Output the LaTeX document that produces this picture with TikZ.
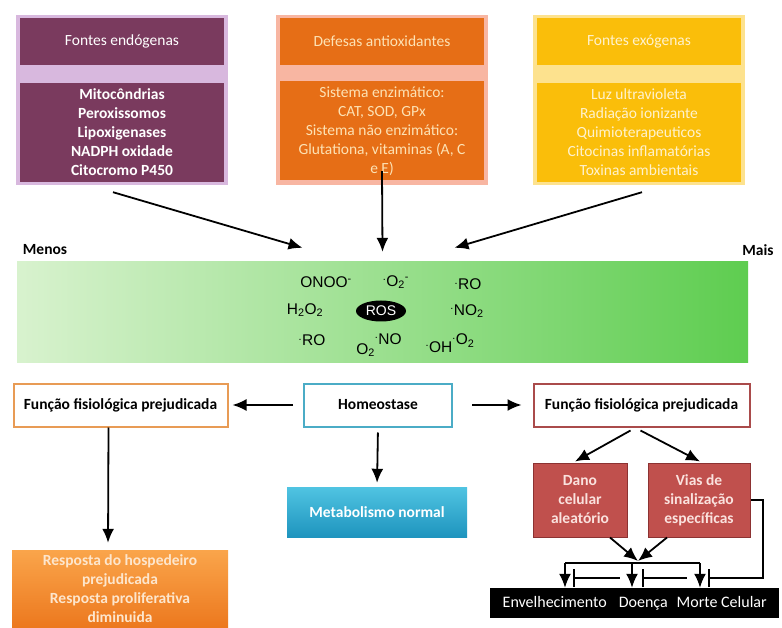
\documentclass[tikz,border=0pt]{standalone}
\usepackage{fontspec}
\setmainfont{Carlito}
\newfontfamily\chemfont{Liberation Sans}
\usetikzlibrary{shapes.geometric, arrows.meta, math}

\definecolor{endoFill}{RGB}{122,58,94}
\definecolor{endoGlow}{RGB}{216,184,222}
\definecolor{antiFill}{RGB}{230,110,22}
\definecolor{antiGlow}{RGB}{248,182,162}
\definecolor{antiText}{RGB}{253,226,180}
\definecolor{exoFill}{RGB}{250,190,10}
\definecolor{exoGlow}{RGB}{253,226,142}
\definecolor{exoText}{RGB}{255,242,205}
\definecolor{rosLeft}{RGB}{216,242,206}
\definecolor{rosRight}{RGB}{94,205,80}
\definecolor{funcLeft}{RGB}{232,155,85}
\definecolor{homeoLine}{RGB}{75,172,198}
\definecolor{funcRight}{RGB}{170,75,75}
\definecolor{respTop}{RGB}{250,165,75}
\definecolor{respBottom}{RGB}{236,120,30}
\definecolor{respText}{RGB}{253,230,205}
\definecolor{metabTop}{RGB}{80,196,226}
\definecolor{metabBottom}{RGB}{30,148,190}
\definecolor{danoFill}{RGB}{192,80,77}
\definecolor{danoLine}{RGB}{140,50,50}
\definecolor{danoText}{RGB}{250,226,222}

\newcommand{\boxfont}{\fontsize{15.5}{19}\selectfont}
\newcommand{\chemsize}{\chemfont\fontsize{15.5}{17}\selectfont}
\newcommand{\radot}{\textsuperscript{.}}

\begin{document}
\begin{tikzpicture}[x=1pt, y=-1pt,
    every node/.style={inner sep=0pt, align=center},
    arr/.style={line width=1.8pt, -{Latex[length=14pt, width=12pt]}},
    link/.style={line width=1.5pt},
    inhib/.style={line width=1.5pt, {Bar[width=18pt]}-},
    glowbox/.style={rectangle, minimum width=212, minimum height=170},
    headbox/.style={rectangle, minimum width=204, minimum height=47, font=\boxfont},
    bodybox/.style={rectangle, minimum width=204, minimum height=99, font=\boxfont},
    funcbox/.style={rectangle, fill=white, line width=2pt, minimum height=43, font=\boxfont\bfseries},
    redbox/.style={rectangle, fill=danoFill, draw=danoLine, line width=1pt, minimum height=74, text=danoText, font=\boxfont\bfseries},
    chem/.style={font=\chemsize}]
    \useasboundingbox[fill=white] (0,0) rectangle (782,628);
    \tikzmath{\xEndo = 122; \xAnti = 382; \xExo = 639; \yHead = 41.5; \yBody = 132.5; \yFunc = 405;}

    % fontes e defesas
    \node[glowbox, fill=endoGlow](endo) at (\xEndo,100) {};
    \node[headbox, fill=endoFill, text=white](endo-head) at (\xEndo,\yHead) {Fontes endógenas};
    \node[bodybox, fill=endoFill, text=white, font=\boxfont\bfseries](endo-body) at (\xEndo,\yBody) {Mitocôndrias\\Peroxissomos\\Lipoxigenases\\NADPH oxidade\\Citocromo P450};

    \node[glowbox, fill=antiGlow](anti) at (\xAnti,100) {};
    \node[headbox, fill=antiFill, text=antiText](anti-head) at (\xAnti,\yHead) {Defesas antioxidantes};
    \node[bodybox, fill=antiFill, text=antiText](anti-body) at (\xAnti,131) {Sistema enzimático:\\CAT, SOD, GPx\\Sistema não enzimático:\\Glutationa, vitaminas (A, C\\e E)};

    \node[glowbox, fill=exoGlow](exo) at (\xExo,100) {};
    \node[headbox, fill=exoFill, text=exoText](exo-head) at (\xExo,\yHead) {Fontes exógenas};
    \node[bodybox, fill=exoFill, text=exoText](exo-body) at (\xExo,\yBody) {Luz ultravioleta\\Radiação ionizante\\Quimioterapeuticos\\Citocinas inflamatórias\\Toxinas ambientais};

    % barra ROS
    \node[font=\boxfont\bfseries](menos) at (45,250) {Menos};
    \node[font=\boxfont\bfseries](mais) at (758,250) {Mais};
    \node[rectangle, minimum width=731, minimum height=101, left color=rosLeft, right color=rosRight](ros-bar) at (382.5,312.5) {};
    \node[ellipse, fill=black, text=white, minimum width=50, minimum height=21, font=\chemfont\fontsize{14}{14}\selectfont](ros) at (381,311) {ROS};
    \node[chem](onoo) at (326,282) {ONOO\textsuperscript{-}};
    \node[chem](supox) at (396,282) {\radot O\textsubscript{2}\textsuperscript{-}};
    \node[chem](ro-a) at (468,284) {\radot RO};
    \node[chem](hperox) at (305,310) {H\textsubscript{2}O\textsubscript{2}};
    \node[chem](nitro) at (467,311) {\radot NO\textsubscript{2}};
    \node[chem](ro-b) at (312,340) {\radot RO};
    \node[chem](o2no) at (379,345) {\raisebox{-1.2ex}{O\textsubscript{2}}\radot NO};
    \node[chem](oho2) at (450,343) {\raisebox{-0.9ex}{\radot OH}\radot O\textsubscript{2}};

    \draw[arr] ([shift={(-9,10)}]endo-body.south) -- ([shift={(-80,-14)}]ros-bar.north);
    \draw[arr] ([yshift=9.5]anti-body.south) -- ([shift={(0,-10)}]ros-bar.north);
    \draw[arr] ([shift={(3,10)}]exo-body.south) -- ([shift={(72,-14)}]ros-bar.north);

    % funcao fisiologica
    \node[funcbox, draw=funcLeft, minimum width=214](func-l) at (120.5,\yFunc) {Função fisiológica prejudicada};
    \node[funcbox, draw=homeoLine, minimum width=148](homeo) at (378,\yFunc) {Homeostase};
    \node[funcbox, draw=funcRight, minimum width=216](func-r) at (641.5,\yFunc) {Função fisiológica prejudicada};

    \node[rectangle, minimum width=216, minimum height=78, top color=respTop, bottom color=respBottom, text=respText, font=\boxfont\bfseries](resp) at (120,589) {Resposta do hospedeiro\\prejudicada\\Resposta proliferativa\\diminuida};
    \node[rectangle, minimum width=180, minimum height=50, top color=metabTop, bottom color=metabBottom, text=white, font=\boxfont\bfseries](metab) at (377,512) {Metabolismo normal};
    \node[redbox, minimum width=94](dano) at (580,500) {Dano\\celular\\aleatório};
    \node[redbox, minimum width=102](vias) at (699,500) {Vias de\\sinalização\\específicas};
    \node[rectangle, fill=black, text=white, anchor=west, minimum width=289, minimum height=30, inner xsep=12pt, font=\fontsize{16}{16}\selectfont](blk) at (490,603) {Envelhecimento\hspace{12pt}Doença\hspace{9pt}Morte Celular};

    \draw[arr, shorten <=10pt, shorten >=4pt] (homeo.west) -- (func-l.east);
    \draw[arr, shorten <=19pt, shorten >=11pt] (homeo.east) -- (func-r.west);
    \draw[arr, shorten <=5pt, shorten >=4pt] (homeo.south) -- (metab.north);
    \draw[arr, shorten >=7pt] ([xshift=-12]func-l.south) -- ([xshift=-12]resp.north);
    \draw[arr] ([shift={(-11,3)}]func-r.south) -- ([shift={(-5,-1)}]dano.north);
    \draw[arr] ([shift={(-1,3)}]func-r.south) -- ([shift={(1,-1)}]vias.north);

    % saidas para o bloco preto
    \coordinate (merge) at (638,561);
    \coordinate (split-l) at (565,563);
    \coordinate (split-m) at (632,563);
    \coordinate (split-r) at (700,563);
    \draw[arr] ([xshift=30]dano.south) -- (merge);
    \draw[arr] ([xshift=-32]vias.south) -- (merge);
    \draw[link] (split-l) -- (split-r);
    \draw[arr] (split-l) -- (split-l |- blk.north);
    \draw[arr] (split-m) -- (split-m |- blk.north);
    \draw[arr] (split-r) -- (split-r |- blk.north);

    \coordinate (bar-a) at (573,578);
    \coordinate (bar-b) at (642,578);
    \coordinate (bar-c) at (708,578);
    \draw[inhib] (bar-a) -- (620,578);
    \draw[inhib] (bar-b) -- (687,578);
    \draw[inhib] (bar-c) -- (763,578) |- (vias.east);
\end{tikzpicture}
\end{document}
